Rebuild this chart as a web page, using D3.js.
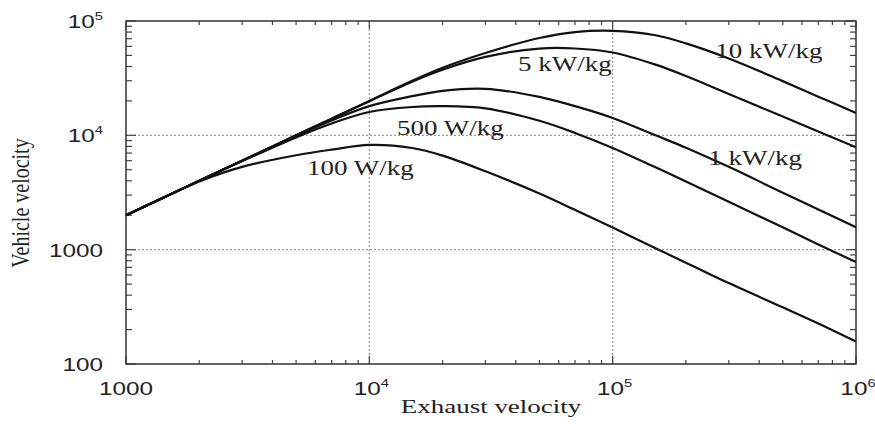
<!DOCTYPE html>
<html>
<head>
<meta charset="utf-8">
<script src="https://cdn.jsdelivr.net/npm/d3@7"></script>
<style>
  html, body { margin: 0; padding: 0; background: #fff; }
  svg { display: block; }
  .tick-label { font-family: "Liberation Sans", Arial, sans-serif; font-size: 18px; fill: #222; }
  .serif { font-family: "Liberation Serif", "Times New Roman", serif; fill: #222; }
</style>
</head>
<body>
<svg id="chart" width="875" height="424"></svg>
<script>
// exhaust velocity samples (x) and vehicle velocity for each specific power
const exhaustVelocity = [1000, 2000, 3000, 5000, 7000, 10000, 15000, 20000, 30000, 50000, 70000, 100000, 150000, 200000, 300000, 500000, 700000, 1000000];
const v100W = [2000, 3950, 5300, 6700, 7500, 8250, 7750, 6650, 4850, 3100, 2230, 1560, 1030, 770, 510, 313, 226, 157];
const v500W = [2000, 4000, 5950, 9600, 12700, 16000, 17700, 18000, 17200, 13400, 10500, 7760, 5250, 3950, 2620, 1570, 1110, 780];
const v1kW = [2000, 4000, 6000, 9900, 13500, 18000, 22000, 24500, 25500, 21700, 18000, 14200, 10000, 7800, 5300, 3150, 2250, 1570];
const v5kW = [2000, 4000, 6000, 10000, 14000, 19900, 29500, 37500, 48500, 57400, 57500, 53000, 41500, 33000, 23000, 14600, 10800, 7850];
const v10kW = [2000, 4000, 6000, 10000, 14000, 20000, 30000, 39000, 52500, 71000, 80000, 82000, 75000, 63700, 47000, 29800, 21800, 15700];

const seriesNames = ['100 W/kg', '500 W/kg', '1 kW/kg', '5 kW/kg', '10 kW/kg'];
const seriesValues = [v100W, v500W, v1kW, v5kW, v10kW];
// label anchors in data coordinates (exhaust velocity, vehicle velocity)
const labelX = [5550, 13000, 247000, 40800, 264000];
const labelY = [4510, 10070, 5510, 36600, 47500];

const xTickValues = [1000, 10000, 100000, 1000000];
const xTickBase = ['1000', '10', '10', '10'];
const xTickSup = ['', '4', '5', '6'];
const yTickValues = [100, 1000, 10000, 100000];
const yTickBase = ['100', '1000', '10', '10'];
const yTickSup = ['', '', '4', '5'];

const svg = d3.select('#chart');
const plotLeft = 126, plotRight = 856, plotTop = 21, plotBottom = 364;
const stretch = 1.35; // reference text is widened horizontally

const x = d3.scaleLog().domain([1000, 1e6]).range([plotLeft, plotRight]);
const y = d3.scaleLog().domain([100, 1e5]).range([plotBottom, plotTop]);

// dotted grid at the inner decades
const grid = svg.append('g');
grid.selectAll('.gx')
    .data([1e4, 1e5])
    .enter().append('line')
    .attr('x1', d => x(d)).attr('x2', d => x(d))
    .attr('y1', plotTop).attr('y2', plotBottom)
    .attr('stroke', '#999').attr('stroke-width', 1.2).attr('stroke-dasharray', '2,2');
grid.selectAll('.gy')
    .data([1000, 1e4])
    .enter().append('line')
    .attr('x1', plotLeft).attr('x2', plotRight)
    .attr('y1', d => y(d)).attr('y2', d => y(d))
    .attr('stroke', '#999').attr('stroke-width', 1.2).attr('stroke-dasharray', '2,2');

// inward ticks on all four sides
const ticks = svg.append('g').attr('stroke', '#444').attr('stroke-width', 1.2);
const xMinor = x.ticks().filter(d => !xTickValues.includes(d));
const yMinor = y.ticks().filter(d => !yTickValues.includes(d));
xMinor.forEach(d => {
    ticks.append('line').attr('x1', x(d)).attr('x2', x(d)).attr('y1', plotBottom).attr('y2', plotBottom - 4);
    ticks.append('line').attr('x1', x(d)).attr('x2', x(d)).attr('y1', plotTop).attr('y2', plotTop + 4);
});
yMinor.forEach(d => {
    ticks.append('line').attr('y1', y(d)).attr('y2', y(d)).attr('x1', plotLeft).attr('x2', plotLeft + 6);
    ticks.append('line').attr('y1', y(d)).attr('y2', y(d)).attr('x1', plotRight).attr('x2', plotRight - 6);
});
xTickValues.forEach(d => {
    ticks.append('line').attr('x1', x(d)).attr('x2', x(d)).attr('y1', plotBottom).attr('y2', plotBottom - 8);
    ticks.append('line').attr('x1', x(d)).attr('x2', x(d)).attr('y1', plotTop).attr('y2', plotTop + 8);
});
yTickValues.forEach(d => {
    ticks.append('line').attr('y1', y(d)).attr('y2', y(d)).attr('x1', plotLeft).attr('x2', plotLeft + 10);
    ticks.append('line').attr('y1', y(d)).attr('y2', y(d)).attr('x1', plotRight).attr('x2', plotRight - 10);
});

// frame
svg.append('rect')
    .attr('x', plotLeft).attr('y', plotTop)
    .attr('width', plotRight - plotLeft).attr('height', plotBottom - plotTop)
    .attr('fill', 'none').attr('stroke', '#333').attr('stroke-width', 1.5);

// curves, smooth through the read points (in log space)
const line = d3.line()
    .x((d, i) => x(exhaustVelocity[i]))
    .y(d => y(d))
    .curve(d3.curveCatmullRom.alpha(0.5));

svg.append('g').selectAll('path')
    .data(seriesValues)
    .enter().append('path')
    .attr('d', line)
    .attr('fill', 'none')
    .attr('stroke', '#111')
    .attr('stroke-width', 2.2)
    .attr('stroke-linejoin', 'round');

// tick labels
function tickText(g, base, sup, anchor) {
    const t = g.append('text').attr('class', 'tick-label').attr('text-anchor', anchor);
    t.append('tspan').text(base);
    if (sup) t.append('tspan').attr('font-size', '11px').attr('dy', -8).text(sup);
    return t;
}

xTickValues.forEach((d, i) => {
    const g = svg.append('g')
        .attr('transform', `translate(${x(d) + (xTickSup[i] ? 2 : 0)},395) scale(${stretch},1)`);
    tickText(g, xTickBase[i], xTickSup[i], 'middle');
});
yTickValues.forEach((d, i) => {
    const g = svg.append('g')
        .attr('transform', `translate(103,${y(d) + 7}) scale(${stretch},1)`);
    tickText(g, yTickBase[i], yTickSup[i], 'end');
});

// series labels
seriesNames.forEach((name, i) => {
    svg.append('text')
        .attr('class', 'serif')
        .attr('font-size', '20px')
        .attr('transform', `translate(${x(labelX[i])},${y(labelY[i])}) scale(${stretch},1)`)
        .text(name);
});

// axis titles
svg.append('text')
    .attr('class', 'serif')
    .attr('font-size', '19px')
    .attr('fill', '#333')
    .attr('text-anchor', 'middle')
    .attr('transform', `translate(491,413) scale(1.42,1)`)
    .text('Exhaust velocity');

svg.append('text')
    .attr('class', 'serif')
    .attr('font-size', '20px')
    .attr('fill', '#333')
    .attr('text-anchor', 'middle')
    .attr('transform', `translate(29,203) rotate(-90) scale(1,1.3)`)
    .text('Vehicle velocity');
</script>
</body>
</html>
